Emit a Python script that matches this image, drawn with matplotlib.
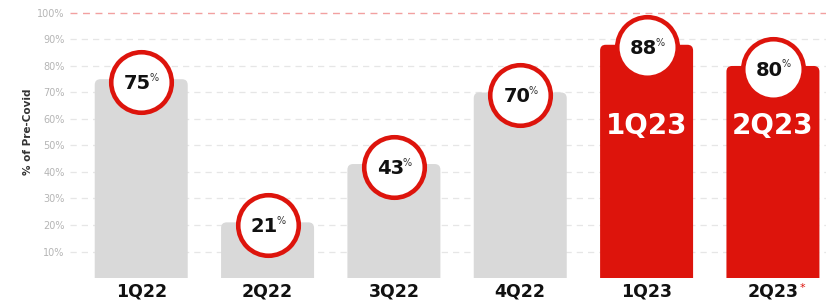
import matplotlib
matplotlib.use("Agg")
import matplotlib.pyplot as plt
from matplotlib.patches import FancyBboxPatch

categories = ["1Q22", "2Q22", "3Q22", "4Q22", "1Q23", "2Q23"]
values = [75, 21, 43, 70, 88, 80]
highlight = [False, False, False, False, True, True]
yticks = [10, 20, 30, 40, 50, 60, 70, 80, 90, 100]
ytick_labels = [f"{v}%" for v in yticks]

RED = "#DD140C"
GRAY = "#D9D9D9"

fig = plt.figure(figsize=(8.26, 3.05), dpi=100)
ax = fig.add_axes([0.085, 0.0885, 0.915, 0.869])
ax.set_xlim(-0.562, 5.42)
ax.set_ylim(0, 100)

for s in ax.spines.values():
    s.set_visible(False)

# grid lines
for v in yticks[:-1]:
    ax.axhline(v, color="#E6E6E6", lw=0.9, ls=(0, (5, 4)), zorder=0)
ax.axhline(100, color="#F2A0A0", lw=1.0, ls=(0, (5, 4)), zorder=0, clip_on=False)

width = 0.736
aspect = (100 / 265) / (1 / 126.4)
for i, (v, h) in enumerate(zip(values, highlight)):
    col = RED if h else GRAY
    p = FancyBboxPatch((i - width / 2, -5), width, v + 5,
                       boxstyle="round,pad=0,rounding_size=0.045",
                       mutation_aspect=aspect, fc=col, ec="none", zorder=1)
    ax.add_patch(p)

# circles
ax.scatter(range(len(values)), [v - 1 for v in values], s=1900, facecolor="white",
           edgecolor=RED, linewidth=3.3, zorder=3, clip_on=False)

for i, v in enumerate(values):
    ax.annotate(f"{v}", (i, v - 1), xytext=(-2.5, -1), textcoords="offset points",
                ha="center", va="center", fontsize=14, fontweight="bold",
                color="#111111", zorder=4)
    ax.annotate("%", (i, v - 1), xytext=(9.5, 3), textcoords="offset points",
                ha="center", va="center", fontsize=7, color="#333333", zorder=4)
    if highlight[i]:
        ax.text(i, 57.5, categories[i], ha="center", va="center", fontsize=20,
                fontweight="heavy", color="white", zorder=4)

ax.set_yticks(yticks)
ax.set_yticklabels(ytick_labels, fontsize=7, color="#B5B5B5")
ax.set_xticks(range(len(categories)))
ax.set_xticklabels(categories, fontsize=12.5, fontweight="bold", color="#111111")
ax.tick_params(axis="both", length=0)
ax.tick_params(axis="y", pad=4)
ax.tick_params(axis="x", pad=3)

ax.annotate("*", (5, 0), xytext=(21.5, -7), textcoords="offset points",
            ha="center", va="center", fontsize=8, color=RED,
            annotation_clip=False)

ax.set_ylabel("% of Pre-Covid", fontsize=7.5, fontweight="bold", color="#333333")
ax.yaxis.set_label_coords(-0.049, 0.55)

fig.savefig("out.png", dpi=100)
